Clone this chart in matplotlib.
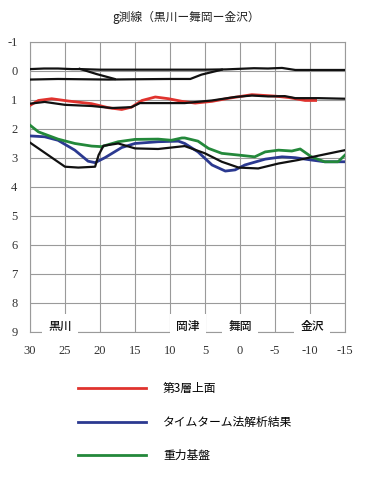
import matplotlib
matplotlib.use("Agg")
import matplotlib.pyplot as plt

plt.rcParams["font.family"] = ["Noto Sans CJK JP", "DejaVu Sans"]

# distance along the line (km) and depth values
red_x = [30, 28.8, 26.9, 24.5, 21.2, 18.8, 16.9, 15.5, 14, 12.1, 10.2, 8.3, 6.4, 4, 1.5, -1.7, -3, -5, -7, -9.3, -10.8]
red_y = [1.2, 1.03, 0.97, 1.05, 1.14, 1.28, 1.34, 1.26, 1.03, 0.91, 0.97, 1.06, 1.12, 1.06, 0.95, 0.83, 0.85, 0.88, 0.93, 1.03, 1.03]

blue_x = [30, 27.9, 26, 23.6, 21.7, 20.7, 19.3, 16.9, 15, 11.7, 8.8, 7.9, 6, 4, 2.1, 0.7, -0.7, -3.6, -6, -7.9, -10.2, -12.1, -15]
blue_y = [2.25, 2.28, 2.4, 2.74, 3.12, 3.17, 3.0, 2.65, 2.51, 2.45, 2.43, 2.51, 2.8, 3.25, 3.46, 3.42, 3.25, 3.05, 2.97, 3.0, 3.08, 3.14, 3.14]

green_x = [30, 28.8, 26, 23.6, 21.2, 19.8, 17.4, 15, 11.7, 9.8, 8.3, 7.9, 6, 4.5, 2.6, 0.2, -2.1, -3.6, -5.5, -7.4, -8.6, -10.2, -12.1, -14, -15]
green_y = [1.88, 2.11, 2.36, 2.51, 2.6, 2.62, 2.45, 2.37, 2.36, 2.4, 2.32, 2.32, 2.43, 2.68, 2.85, 2.91, 2.97, 2.8, 2.74, 2.77, 2.7, 2.97, 3.14, 3.14, 2.91]

# black reference lines
top_x = [30, 28, 26, 24, 22.9, 20, 15, 10, 5, 2, 0, -2, -4, -6, -7.9, -9, -12, -15]
top_y = [-0.05, -0.07, -0.07, -0.05, -0.05, -0.03, -0.03, -0.03, -0.03, -0.04, -0.06, -0.08, -0.07, -0.09, -0.02, -0.02, -0.02, -0.02]
upper_x = [30, 26, 18.8, 15, 10, 7.1, 5.5, 2.6]
upper_y = [0.31, 0.29, 0.31, 0.3, 0.29, 0.29, 0.14, -0.03]
branch_x = [22.9, 20.5, 17.9]
branch_y = [-0.06, 0.12, 0.29]
mid_x = [30, 27.9, 25, 21.2, 18.3, 15.5, 14.3, 11.7, 7.9, 4, 0.7, -1.7, -4, -6.4, -7.9, -11.2, -15]
mid_y = [1.14, 1.08, 1.18, 1.22, 1.29, 1.26, 1.12, 1.12, 1.12, 1.03, 0.91, 0.86, 0.89, 0.88, 0.95, 0.95, 0.97]
low_x = [30, 25, 23.1, 20.7, 20.2, 19.5, 17.4, 15, 11.7, 7.9, 5, 2.6, 0.2, -2.6, -5.5, -8.3, -11.2, -15]
low_y = [2.48, 3.31, 3.34, 3.31, 2.91, 2.59, 2.51, 2.68, 2.7, 2.6, 2.85, 3.14, 3.34, 3.37, 3.2, 3.08, 2.93, 2.74]

x_ticks = [30, 25, 20, 15, 10, 5, 0, -5, -10, -15]
y_ticks = [-1, 0, 1, 2, 3, 4, 5, 6, 7, 8, 9]
stations = ["黒川", "岡津", "舞岡", "金沢"]
station_x = [25.7, 7.4, 0.0, -10.3]
labels = ["第3層上面", "タイムターム法解析結果", "重力基盤"]

fig = plt.figure(figsize=(3.87, 5.0), dpi=100)
ax = fig.add_axes([0.0775, 0.336, 0.814, 0.581])

ax.plot(red_x, red_y, color="#e0332e", lw=2.0, zorder=3, label=labels[0])
ax.plot(blue_x, blue_y, color="#2b3990", lw=2.0, zorder=3, label=labels[1])
ax.plot(green_x, green_y, color="#23883a", lw=2.0, zorder=3, label=labels[2])
for xs, ys in [(top_x, top_y), (upper_x, upper_y), (branch_x, branch_y), (mid_x, mid_y), (low_x, low_y)]:
    ax.plot(xs, ys, color="#111111", lw=1.6, zorder=4)

ax.set_xlim(30, -15)
ax.set_ylim(9, -1)
ax.set_xticks(x_ticks)
ax.set_xticklabels([str(v) for v in x_ticks])
ax.set_yticks(y_ticks)
ax.set_yticklabels([str(v) for v in y_ticks])
ax.grid(True, color="#9a9a9a", lw=0.8)
ax.set_axisbelow(True)
for s in ax.spines.values():
    s.set_color("#9a9a9a")
    s.set_linewidth(0.8)
ax.tick_params(length=0, pad=9, labelsize=9, colors="#333333",
               labelfontfamily="Liberation Serif")

for name, sx in zip(stations, station_x):
    ax.text(sx, 8.82, name, ha="center", va="center", fontsize=8.5, zorder=5,
            fontweight="medium", color="#111111",
            bbox=dict(boxstyle="square,pad=0.55", fc="white", ec="none"))

fig.text(186 / 387, 1 - 17 / 500, "g測線（黒川ー舞岡ー金沢）", ha="center", va="center",
         fontsize=8.5, color="#222222")

fig.legend(loc="upper left", bbox_to_anchor=(78 / 387, 1 - 382 / 500), frameon=False,
           fontsize=8.5, handlelength=5.8, handletextpad=1.4, labelspacing=1.75,
           borderpad=0, borderaxespad=0)

fig.savefig("out.png", dpi=100)
